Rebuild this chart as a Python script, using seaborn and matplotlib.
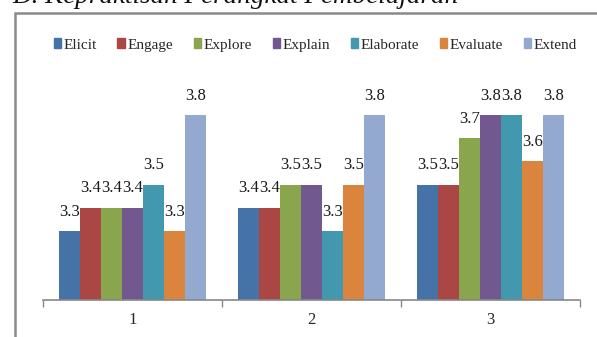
import matplotlib
matplotlib.use("Agg")
import matplotlib.pyplot as plt
import pandas as pd
import seaborn as sns
from matplotlib.patches import Rectangle

groups = ["1", "2", "3"]
phases = ["Elicit", "Engage", "Explore", "Explain", "Elaborate", "Evaluate", "Extend"]
elicit = [3.3, 3.4, 3.5]
engage = [3.4, 3.4, 3.5]
explore = [3.4, 3.5, 3.7]
explain = [3.4, 3.5, 3.8]
elaborate = [3.5, 3.3, 3.8]
evaluate = [3.3, 3.5, 3.6]
extend = [3.8, 3.8, 3.8]
colors = ["#4572A7", "#AA4643", "#89A54E", "#71588F", "#4198AF", "#DB843D", "#93A9CF"]

series = [elicit, engage, explore, explain, elaborate, evaluate, extend]
rows = []
for name, vals in zip(phases, series):
    for g, v in zip(groups, vals):
        rows.append({"group": g, "phase": name, "score": v})
df = pd.DataFrame(rows)

sns.set_style("white")
plt.rcParams["font.family"] = ["Liberation Serif", "DejaVu Serif"]

fig = plt.figure(figsize=(5.97, 3.37), dpi=100)
ax = fig.add_axes([43 / 597, 1 - 300 / 337, 537 / 597, 231 / 337])

sns.barplot(data=df, x="group", y="score", hue="phase", hue_order=phases,
            palette=colors, saturation=1, width=0.82, linewidth=0, ax=ax, legend=False)

for cont in ax.containers:
    ax.bar_label(cont, fmt="%.1f", padding=8, fontsize=12, color="#1a1a1a")

ax.set_ylim(3.0, 4.0)
ax.set_xlim(-0.5, 2.5)
ax.set_xlabel("")
ax.set_ylabel("")
ax.set_yticks([])
ax.set_xticks([-0.5, 0.5, 1.5, 2.5])
ax.set_xticklabels([])
ax.set_xticks([0, 1, 2], minor=True)
ax.set_xticklabels(groups, minor=True, fontsize=12)
ax.tick_params(axis="x", which="major", direction="out", length=5, width=1, color="#888888", bottom=True)
ax.tick_params(axis="x", which="minor", length=0, pad=9)
for s in ["left", "right", "top"]:
    ax.spines[s].set_visible(False)
ax.spines["bottom"].set_color("#888888")
ax.spines["bottom"].set_linewidth(1.2)

handles = [Rectangle((0, 0), 1, 1, color=c) for c in colors]
fig.legend(handles, phases, loc="center", bbox_to_anchor=(0.528, 1 - 45 / 337), ncol=7,
           frameon=False, fontsize=11, handlelength=0.5, handleheight=0.65,
           handletextpad=0.15, columnspacing=1.35)

# outer chart border (right and bottom edges fall outside the crop)
fig.patches.append(Rectangle((15 / 597, -0.1), 1.2, 1 - 13 / 337 + 0.1, transform=fig.transFigure,
                             fill=False, edgecolor="#8a8a8a", linewidth=1.8))

fig.text(12 / 597, 1 - 3 / 337, "D. Kepraktisan Perangkat Pembelajaran", fontsize=19.5,
         style="italic", va="baseline", ha="left", color="#111111")

fig.savefig("out.png", dpi=100)
